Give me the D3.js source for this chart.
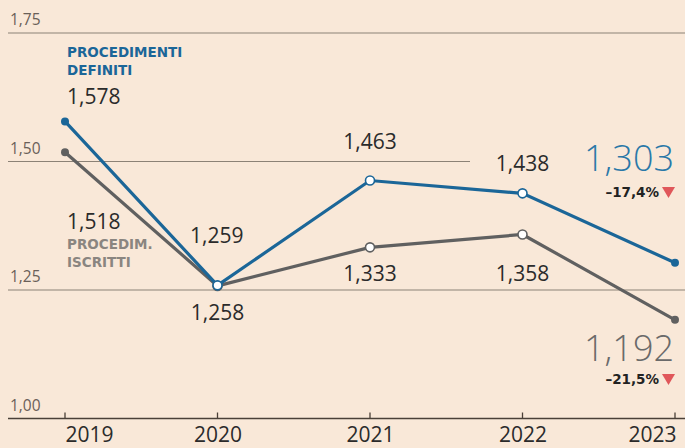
<!DOCTYPE html>
<html><head><meta charset="utf-8">
<script src="https://cdn.jsdelivr.net/npm/d3@7"></script>
<style>
html,body{margin:0;padding:0;background:#f9e8d8;}
svg{display:block;font-family:"Open Sans",sans-serif;}
</style></head>
<body><svg id="c" width="685" height="448"></svg>
<script>
const years = [2019, 2020, 2021, 2022, 2023];
const definiti = [1.578, 1.259, 1.463, 1.438, 1.303];
const iscritti = [1.518, 1.258, 1.333, 1.358, 1.192];
const yTicks = [1.00, 1.25, 1.50, 1.75];
const varDefiniti = "–17,4%";
const varIscritti = "–21,5%";

const svg = d3.select("#c");
const x = d3.scalePoint().domain(years).range([65, 675]);
const y = d3.scaleLinear().domain([1.0, 1.75]).range([418.5, 33]);
const fmt = v => d3.format(".3f")(v).replace(".", ",");
const fmtT = v => d3.format(".2f")(v).replace(".", ",");
const BLUE = "#1b6698", GRAY = "#606060", GRID = "#8c8276", TXT = "#2b2b2b";
const BOLD = "DejaVu Sans, sans-serif";

// gridlines
yTicks.forEach(t => {
  const x2 = t === 1.50 ? 470 : 685;
  svg.append("line").attr("x1", 8).attr("x2", x2).attr("y1", y(t)).attr("y2", y(t))
    .attr("stroke", t === 1.0 ? "#4a4038" : GRID).attr("stroke-width", t === 1.0 ? 1.4 : 1.1);
  svg.append("text").attr("x", 10).attr("y", y(t) - 8).text(fmtT(t))
    .attr("font-size", 15.5).attr("fill", "#6a6058");
});

// x axis
const ax = svg.append("g").attr("transform", `translate(0,${y(1.0)})`)
  .call(d3.axisBottom(x).tickSize(0).tickPadding(0).tickFormat(d => d));
ax.select(".domain").remove();
ax.selectAll("text").attr("font-size", 21).attr("fill", TXT)
  .attr("font-family", "Open Sans, sans-serif").attr("dy", null).attr("y", 23.5);
ax.selectAll(".tick").filter(d => d === years[0])
  .select("text").attr("text-anchor", "start").attr("x", 0);
ax.selectAll(".tick").filter(d => d === years[years.length - 1])
  .select("text").attr("text-anchor", "end").attr("x", 1);
years.forEach(yr => {
  svg.append("line").attr("x1", x(yr)).attr("x2", x(yr)).attr("y1", y(1.0) - 6).attr("y2", y(1.0))
    .attr("stroke", "#4a4038").attr("stroke-width", 1.3);
});

const line = d3.line().x((d, i) => x(years[i])).y(d => y(d));
svg.append("path").datum(iscritti).attr("d", line).attr("fill", "none").attr("stroke", GRAY).attr("stroke-width", 3.2);
svg.append("path").datum(definiti).attr("d", line).attr("fill", "none").attr("stroke", BLUE).attr("stroke-width", 3.2);

function dots(vals, col) {
  vals.forEach((v, i) => {
    const end = i === 0 || i === vals.length - 1;
    svg.append("circle").attr("cx", x(years[i])).attr("cy", y(v)).attr("r", end ? 4 : 4.5)
      .attr("fill", end ? col : "#ffffff").attr("stroke", col).attr("stroke-width", end ? 0 : 1.6);
  });
}
dots(iscritti, GRAY);
dots(definiti, BLUE);

function label(t, xx, yy, opts = {}) {
  return svg.append("text").attr("x", xx).attr("y", yy).text(t)
    .attr("font-size", opts.size || 21).attr("fill", opts.fill || TXT)
    .attr("text-anchor", opts.anchor || "middle").attr("font-weight", opts.weight || 400)
    .attr("font-family", opts.family || "Open Sans, sans-serif");
}

// series names
const nameOpts = (fill) => ({size: 13.5, weight: 700, fill, anchor: "start", family: BOLD});
label("PROCEDIMENTI", 67, 57, nameOpts(BLUE));
label("DEFINITI", 67, 75, nameOpts(BLUE));
label("PROCEDIM.", 67, 249, nameOpts("#8a8580"));
label("ISCRITTI", 67, 267, nameOpts("#8a8580"));

// value labels
label(fmt(definiti[0]), 67, 104, {anchor: "start"});
label(fmt(iscritti[0]), 67, 229, {anchor: "start"});
label(fmt(definiti[1]), 190, 243, {anchor: "start"});
label(fmt(iscritti[1]), x(years[1]), 320);
label(fmt(definiti[2]), x(years[2]), 149);
label(fmt(iscritti[2]), x(years[2]), 281);
label(fmt(definiti[3]), x(years[3]), 171);
label(fmt(iscritti[3]), x(years[3]), 281);
label(fmt(definiti[4]), 674, 171, {size: 36, fill: "#2a78a8", anchor: "end", weight: 300});
label(fmt(iscritti[4]), 674, 361, {size: 36, fill: "#6a6a6a", anchor: "end", weight: 300});

function variation(t, yy) {
  label(t, 659, yy, {size: 13.5, weight: 700, anchor: "end", fill: "#222", family: BOLD});
  svg.append("path").attr("d", `M662,${yy - 10}L675,${yy - 10}L668.5,${yy + 1}Z`).attr("fill", "#e0575a");
}
variation(varDefiniti, 197);
variation(varIscritti, 384);
</script></body></html>
